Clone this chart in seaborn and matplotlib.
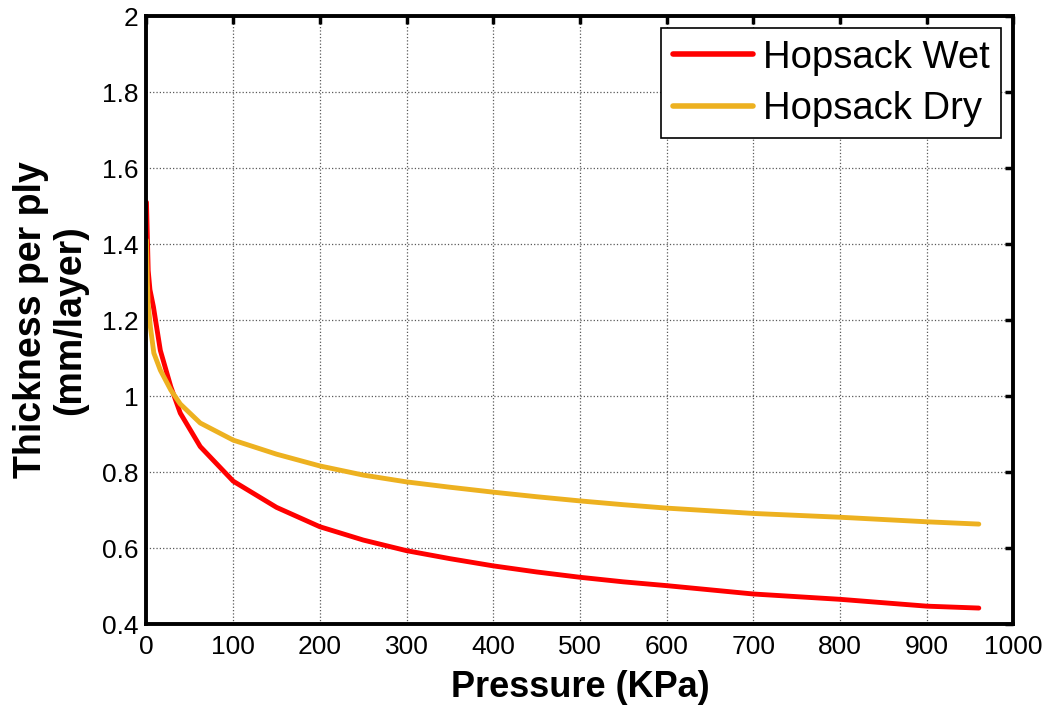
import pandas as pd
import matplotlib
matplotlib.use('Agg')
import matplotlib.pyplot as plt
import seaborn as sns

# pressure (KPa) and thickness per ply (mm/layer)
wet_pressure = [0, 1, 2, 4, 8, 16, 28, 39, 62, 100, 150, 200, 250, 300, 350, 400,
                450, 500, 550, 600, 650, 700, 750, 800, 850, 900, 960]
wet_thickness = [1.51, 1.42, 1.33, 1.28, 1.235, 1.12, 1.025, 0.955, 0.867, 0.776, 0.707,
                 0.656, 0.621, 0.593, 0.572, 0.553, 0.537, 0.523, 0.511, 0.501, 0.49,
                 0.479, 0.472, 0.465, 0.456, 0.447, 0.442]

dry_pressure = [0, 1, 2, 4.6, 8.5, 16, 28, 39, 62, 100, 150, 200, 250, 300, 350, 400,
                450, 500, 550, 600, 650, 700, 750, 800, 850, 900, 960]
dry_thickness = [1.41, 1.3, 1.24, 1.18, 1.113, 1.068, 1.016, 0.979, 0.929, 0.884, 0.847,
                 0.816, 0.792, 0.774, 0.76, 0.747, 0.735, 0.724, 0.714, 0.705, 0.698,
                 0.691, 0.686, 0.681, 0.675, 0.669, 0.663]

series_names = ['Hopsack Wet', 'Hopsack Dry']
series_colors = ['#ff0000', '#edb120']

df = pd.concat([
    pd.DataFrame({'Pressure': wet_pressure, 'Thickness': wet_thickness, 'Fabric': series_names[0]}),
    pd.DataFrame({'Pressure': dry_pressure, 'Thickness': dry_thickness, 'Fabric': series_names[1]}),
])

sns.set_style('white')
plt.rcParams['font.family'] = ['Liberation Sans', 'DejaVu Sans']
plt.rcParams['text.color'] = 'black'
plt.rcParams['axes.labelcolor'] = 'black'

fig = plt.figure(figsize=(10.47, 7.10), dpi=100)
ax = fig.add_axes([0.1399, 0.1211, 0.8281, 0.8563])

sns.lineplot(data=df, x='Pressure', y='Thickness', hue='Fabric', hue_order=series_names,
             palette=series_colors, estimator=None, sort=False, linewidth=3.5, ax=ax)

ax.set_xlim(0, 1000)
ax.set_ylim(0.4, 2)
ax.set_xticks(range(0, 1001, 100))
ax.set_yticks([0.4, 0.6, 0.8, 1, 1.2, 1.4, 1.6, 1.8, 2])
ax.set_yticklabels(['0.4', '0.6', '0.8', '1', '1.2', '1.4', '1.6', '1.8', '2'])

ax.grid(True, linestyle=':', color='0.35', linewidth=0.9)
for s in ax.spines.values():
    s.set_visible(True)
    s.set_color('black')
    s.set_linewidth(2.8)
ax.tick_params(direction='in', length=6, width=2.5, top=True, right=True,
               labelsize=19, colors='black')
ax.tick_params(axis='x', pad=8)
ax.tick_params(axis='y', pad=6)

ax.set_xlabel('Pressure (KPa)', fontsize=26, fontweight='bold', labelpad=8)
ax.set_ylabel('Thickness per ply\n(mm/layer)', fontsize=27, fontweight='bold',
              linespacing=1.12)
ax.yaxis.set_label_coords(-0.0675, 0.5)

leg = ax.legend(loc='upper right', fontsize=27.5, frameon=True, fancybox=False,
                edgecolor='black', framealpha=1, handlelength=2.1, handletextpad=0.27,
                labelspacing=0.4, borderpad=0.3, borderaxespad=0.32)
leg.get_frame().set_linewidth(1.2)
for line in leg.get_lines():
    line.set_linewidth(4)

fig.savefig('out.png', dpi=100)
plt.close(fig)
